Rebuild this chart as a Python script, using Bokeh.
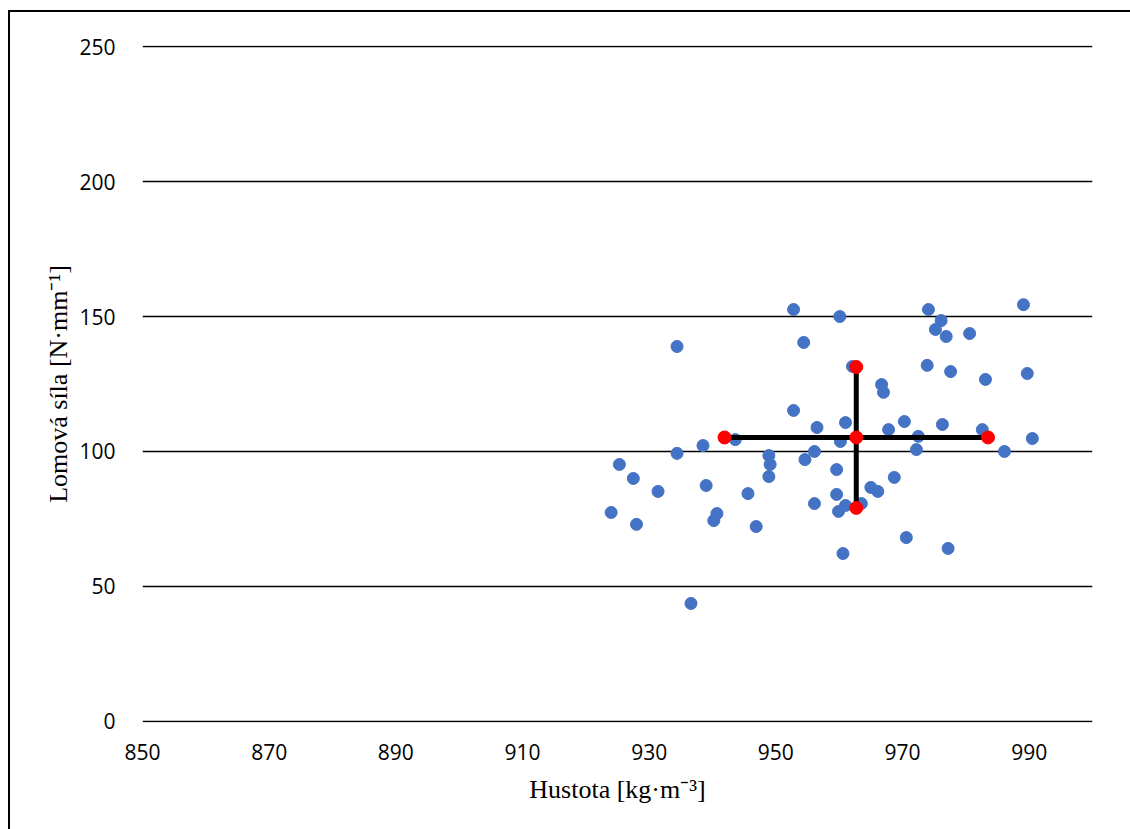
from bokeh.plotting import figure
from bokeh.models import FixedTicker, Range1d
from bokeh.embed import file_html
from bokeh.resources import INLINE

# Data: density [kg/m3] and fracture force [N/mm]
density = [924.0, 925.3, 927.5, 928.0, 931.4, 934.4, 934.4, 936.6, 938.5, 939.0,
           943.6, 940.2, 940.7, 945.6, 946.9, 948.9, 949.1, 948.9, 952.8, 952.8,
           954.4, 954.6, 956.1, 956.5, 956.1, 959.6, 959.6, 959.9, 960.1, 960.2,
           960.6, 961.0, 961.0, 962.1, 974.1, 976.1, 975.2, 976.9, 980.6, 989.1,
           973.9, 977.6, 983.1, 989.7, 966.7, 967.0, 967.8, 970.3, 976.3, 982.6,
           972.5, 972.2, 986.1, 990.5, 968.7, 965.0, 966.1, 963.5, 970.6, 977.2]
force = [77.4, 95.2, 90.0, 73.0, 85.2, 138.9, 99.3, 43.7, 102.2, 87.4,
         104.4, 74.4, 77.0, 84.4, 72.2, 98.5, 95.2, 90.7, 152.6, 115.2,
         140.4, 97.0, 80.7, 108.9, 100.0, 93.3, 84.1, 77.8, 150.0, 103.7,
         62.2, 110.7, 80.0, 131.5, 152.6, 148.5, 145.2, 142.6, 143.7, 154.4,
         131.9, 129.6, 126.7, 128.9, 124.8, 121.9, 108.1, 111.1, 110.0, 108.1,
         105.6, 100.7, 100.0, 104.8, 90.4, 86.7, 85.2, 80.7, 68.1, 64.1]

mean_density = 962.7
mean_force = 105.2
sd_density = 20.8
sd_force = 26.1

x_ticks = [850, 870, 890, 910, 930, 950, 970, 990]
y_ticks = [0, 50, 100, 150, 200, 250]

p = figure(width=1122, height=819, output_backend="svg", toolbar_location=None,
           x_range=Range1d(850, 1000), y_range=Range1d(-0.4, 250.4),
           min_border_left=132, min_border_right=40, min_border_top=33,
           min_border_bottom=109)
p.margin = (10, 0, 0, 8)
p.styles = {"border-left": "2px solid #000", "border-top": "2px solid #000",
            "box-sizing": "border-box"}
p.outline_line_color = None
p.background_fill_color = "white"
p.border_fill_color = "white"

for ax in (p.xaxis, p.yaxis):
    ax.axis_line_color = None
    ax.major_tick_line_color = None
    ax.minor_tick_line_color = None
    ax.major_label_text_font = "Open Sans"
    ax.major_label_text_font_size = "21px"
    ax.major_label_text_color = "#000000"
    ax.axis_label_text_font = "Liberation Serif"
    ax.axis_label_text_font_size = "26px"
    ax.axis_label_text_font_style = "normal"
    ax.axis_label_text_color = "#000000"

p.xaxis.ticker = FixedTicker(ticks=x_ticks)
p.yaxis.ticker = FixedTicker(ticks=y_ticks)
p.xaxis.major_label_standoff = 15
p.yaxis.major_label_standoff = 21
p.xaxis.axis_label = "Hustota [kg·m⁻³]"
p.yaxis.axis_label = "Lomová síla [N·mm⁻¹]"
p.xaxis.axis_label_standoff = 12
p.yaxis.axis_label_standoff = 3

p.xgrid.grid_line_color = None
p.ygrid.grid_line_color = "#000000"
p.ygrid.grid_line_width = 1.3

p.scatter(density, force, size=12, color="#4472C4", line_color="#4472C4")

p.line([mean_density - sd_density, mean_density + sd_density], [mean_force, mean_force],
       line_color="black", line_width=5)
p.line([mean_density, mean_density], [mean_force - sd_force, mean_force + sd_force],
       line_color="black", line_width=5)
p.scatter([mean_density, mean_density - sd_density, mean_density + sd_density,
           mean_density, mean_density],
          [mean_force, mean_force, mean_force, mean_force + sd_force, mean_force - sd_force],
          size=13, color="#FF0000", line_color="#FF0000")

open("out.html", "w").write(file_html(p, INLINE))
